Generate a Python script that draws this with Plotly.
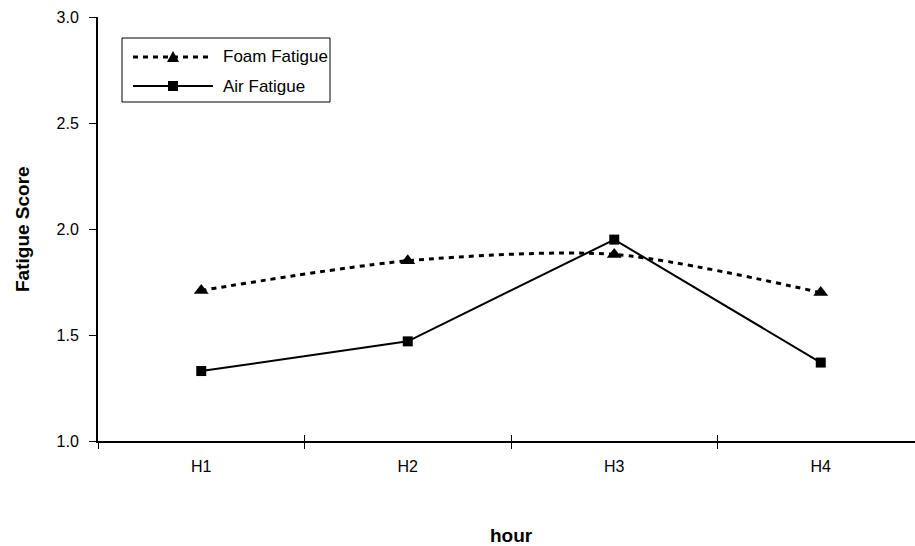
import plotly.graph_objects as go

hours = ["H1", "H2", "H3", "H4"]
foam_fatigue = [1.71, 1.85, 1.88, 1.70]
air_fatigue = [1.33, 1.47, 1.95, 1.37]
y_ticks = [1.0, 1.5, 2.0, 2.5, 3.0]

FONT = "Liberation Sans, Arial, sans-serif"
DOTS = "5px,5px"

W, H = 915, 546
L, T, B = 98, 17, 105
PW, PH = W - L, H - T - B
cat_px = 206.5
x_max = -0.5 + PW / cat_px


def px(x):
    return (x - L) / PW


def py(y):
    return 1 - (y - T) / PH


fig = go.Figure()

fig.add_trace(go.Scatter(
    x=hours, y=foam_fatigue, name="Foam Fatigue",
    mode="lines+markers",
    line=dict(color="black", width=3, dash=DOTS, shape="spline", smoothing=0.8),
    marker=dict(symbol="triangle-up", size=13, color="black"),
    showlegend=False,
))
fig.add_trace(go.Scatter(
    x=hours, y=air_fatigue, name="Air Fatigue",
    mode="lines+markers",
    line=dict(color="black", width=2),
    marker=dict(symbol="square", size=10, color="black"),
    showlegend=False,
))
# empty trace on the overlay axis that carries the inner half of the category ticks
fig.add_trace(go.Scatter(x=hours, y=[None] * len(hours), xaxis="x2",
                         showlegend=False, hoverinfo="skip"))

# legend box drawn in paper space
shapes = [
    dict(type="rect", xref="paper", yref="paper",
         x0=px(122), x1=px(330), y0=py(38), y1=py(102),
         line=dict(color="black", width=1), fillcolor="white", layer="below"),
    dict(type="line", xref="paper", yref="paper",
         x0=px(133), x1=px(213), y0=py(57), y1=py(57),
         line=dict(color="black", width=3, dash=DOTS)),
    dict(type="path", xref="paper", yref="paper",
         path=f"M {px(167)} {py(62)} L {px(179)} {py(62)} L {px(173)} {py(51)} Z",
         line=dict(color="black", width=0), fillcolor="black"),
    dict(type="line", xref="paper", yref="paper",
         x0=px(133), x1=px(213), y0=py(86), y1=py(86),
         line=dict(color="black", width=2)),
    dict(type="rect", xref="paper", yref="paper",
         x0=px(168), x1=px(178), y0=py(81), y1=py(91),
         line=dict(color="black", width=0), fillcolor="black"),
]

annotations = [
    dict(text="Foam Fatigue", xref="paper", yref="paper", x=px(221), y=py(57),
         xanchor="left", yanchor="middle", showarrow=False,
         font=dict(size=17, family=FONT)),
    dict(text="Air Fatigue", xref="paper", yref="paper", x=px(221), y=py(86),
         xanchor="left", yanchor="middle", showarrow=False,
         font=dict(size=17, family=FONT)),
    dict(text="<b>hour</b>", xref="paper", yref="paper",
         x=px(511), y=py(535), xanchor="center", yanchor="middle", showarrow=False,
         font=dict(size=19, family=FONT)),
    dict(text="<b>Fatigue Score</b>", xref="paper", yref="paper",
         x=px(22), y=0.5, textangle=-90,
         xanchor="center", yanchor="middle", showarrow=False,
         font=dict(size=19, family=FONT)),
]

fig.update_layout(
    width=W, height=H,
    margin=dict(l=L, r=0, t=T, b=B),
    paper_bgcolor="white", plot_bgcolor="white",
    font=dict(family=FONT, color="black", size=16),
    showlegend=False,
    xaxis=dict(
        type="category", categoryorder="array", categoryarray=hours,
        range=[-0.5, x_max],
        tickson="boundaries", ticks="outside", ticklen=6, tickwidth=1, tickcolor="black",
        ticklabelstandoff=10,
        showline=True, linecolor="black", linewidth=2,
        showgrid=False, zeroline=False,
        tickfont=dict(size=16, family=FONT),
    ),
    xaxis2=dict(
        type="category", categoryorder="array", categoryarray=hours,
        overlaying="x", range=[-0.5, x_max], side="bottom",
        tickson="boundaries", ticks="inside", ticklen=6, tickwidth=1, tickcolor="black",
        showline=False, showgrid=False, zeroline=False, showticklabels=False,
    ),
    yaxis=dict(
        range=[1.0, 3.0],
        tickmode="array", tickvals=y_ticks, ticktext=[f"{v:.1f}" for v in y_ticks],
        ticks="outside", ticklen=7, tickwidth=1, tickcolor="black",
        ticklabelstandoff=7,
        showline=True, linecolor="black", linewidth=2,
        showgrid=False, zeroline=False,
        tickfont=dict(size=16, family=FONT),
    ),
    shapes=shapes,
    annotations=annotations,
)

fig.write_html("out.html")
